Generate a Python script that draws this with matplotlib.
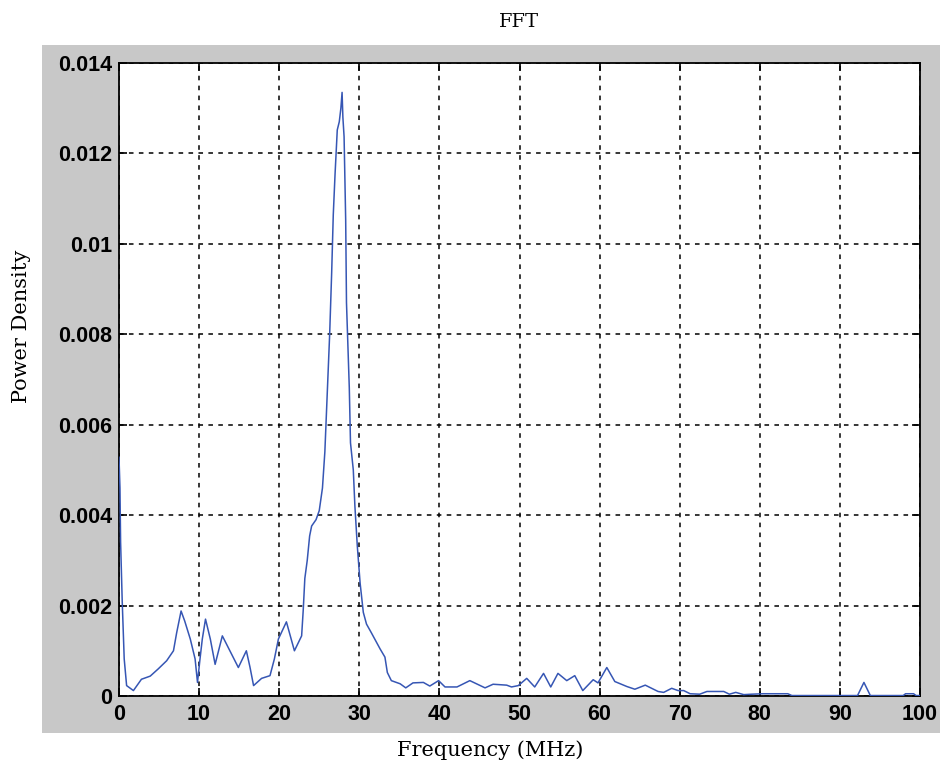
import matplotlib
matplotlib.use("Agg")
import matplotlib.pyplot as plt
from matplotlib.patches import Rectangle

# Spectrum samples: frequency (MHz) and power density
freq_mhz = [
    0.0, 0.12, 0.2, 0.4, 0.65, 0.95, 1.8, 2.8, 3.9, 4.9, 5.95, 6.8, 7.2, 7.75,
    8.2, 8.9, 9.5, 9.8, 10.1, 10.4, 10.8, 11.4, 12.0, 12.9, 14.9, 15.9, 16.35,
    16.8, 17.8, 18.85, 19.4, 19.9, 20.9, 21.9, 22.8, 23.0, 23.2, 23.5, 23.8,
    24.05, 24.6, 25.0, 25.4, 25.7, 26.0, 26.3, 26.55, 26.75, 26.97, 27.25,
    27.5, 27.7, 27.85, 27.95, 28.1, 28.3, 28.4, 28.75, 28.9, 29.25, 29.45,
    29.75, 30.1, 30.5, 30.9, 31.5, 32.6, 33.2, 33.5, 34.0, 35.1, 35.8, 36.7,
    38.0, 38.8, 39.9, 40.7, 42.2, 43.8, 45.7, 46.7, 48.4, 49.0, 49.85, 50.9,
    51.9, 53.0, 53.9, 54.8, 55.9, 56.9, 57.9, 59.2, 59.8, 60.9, 61.9, 63.4,
    64.4, 65.7, 67.3, 68.0, 69.0, 69.8, 70.5, 71.3, 72.5, 73.4, 74.6, 75.5,
    76.2, 77.0, 78.0, 79.0, 80.4, 83.5, 84.0, 92.2, 93.0, 93.8, 97.9, 98.2,
    99.2, 99.5, 100.0,
]
power_density = [
    0.00528, 0.0046, 0.0034, 0.0021, 0.00082, 0.00023, 0.00012, 0.00037,
    0.00044, 0.0006, 0.00078, 0.001, 0.0014, 0.00188, 0.00166, 0.00126,
    0.00082, 0.0003, 0.0008, 0.00126, 0.0017, 0.00126, 0.0007, 0.00133,
    0.00063, 0.001, 0.00064, 0.00023, 0.00039, 0.00045, 0.00082, 0.00126,
    0.00164, 0.001, 0.00133, 0.0019, 0.0026, 0.003, 0.00354, 0.00376, 0.0039,
    0.0041, 0.0046, 0.0054, 0.0067, 0.008, 0.00936, 0.01064, 0.01153,
    0.01252, 0.0127, 0.0130, 0.01335, 0.0128, 0.01237, 0.01053, 0.0087,
    0.00682, 0.0056, 0.005, 0.0042, 0.00332, 0.0025, 0.00185, 0.00159,
    0.0014, 0.00104, 0.00086, 0.00052, 0.00034, 0.00027, 0.00018, 0.00029,
    0.0003, 0.00022, 0.00034, 0.0002, 0.0002, 0.00034, 0.00018, 0.00026,
    0.00024, 0.0002, 0.00023, 0.00039, 0.0002, 0.0005, 0.0002, 0.0005,
    0.00034, 0.00045, 0.00012, 0.00036, 0.00029, 0.00063, 0.00032, 0.00021,
    0.00015, 0.00024, 0.0001, 0.00008, 0.00017, 0.00012, 0.00012, 0.00005,
    0.00004, 0.0001, 0.0001, 0.0001, 0.00004, 0.00008, 0.00003, 0.00004,
    0.00005, 0.00005, 0.00001, 0.00001, 0.0003, 0.00001, 0.00001, 0.00005,
    0.00005, 0.00001, 0.00001,
]

x_ticks = [0, 10, 20, 30, 40, 50, 60, 70, 80, 90, 100]
y_ticks = [0, 0.002, 0.004, 0.006, 0.008, 0.01, 0.012, 0.014]
y_tick_labels = ["0", "0.002", "0.004", "0.006", "0.008", "0.01", "0.012", "0.014"]

W, H = 940, 766
fig = plt.figure(figsize=(W / 100, H / 100), dpi=100, facecolor="white")

# grey panel behind the axes
panel = Rectangle((42 / W, 1 - 733 / H), 1 - 42 / W, (733 - 45) / H,
                  transform=fig.transFigure, facecolor="#c8c8c8",
                  edgecolor="none", zorder=-10)
fig.patches.append(panel)

ax = fig.add_axes([119 / W, 1 - 696 / H, (920 - 119) / W, (696 - 63) / H])
ax.set_zorder(1)
ax.set_facecolor("white")
ax.plot(freq_mhz, power_density, color="#3656b4", linewidth=1.1, zorder=3)

ax.set_xlim(0, 100)
ax.set_ylim(0, 0.014)
ax.set_xticks(x_ticks)
ax.set_xticklabels([str(t) for t in x_ticks])
ax.set_yticks(y_ticks)
ax.set_yticklabels(y_tick_labels)

ax.grid(True, color="black", linestyle=(0, (3, 3.5)), linewidth=1.1)
ax.set_axisbelow(True)
ax.tick_params(direction="in", length=6, width=1.2, top=True, right=True,
               labelsize=15.5)
ax.tick_params(axis="x", pad=6)
ax.tick_params(axis="y", pad=5)
for lbl in ax.get_xticklabels() + ax.get_yticklabels():
    lbl.set_fontweight("bold")
    lbl.set_family("Liberation Sans")
for sp in ax.spines.values():
    sp.set_linewidth(1.3)
    sp.set_color("black")

serif = "DejaVu Serif"
fig.text(519.5 / W, 1 - 22 / H, "FFT", ha="center", va="center",
         family=serif, fontsize=14)
fig.text(490 / W, 1 - 750 / H, "Frequency (MHz)", ha="center", va="center",
         family=serif, fontsize=15)
fig.text(22 / W, 1 - 326 / H, "Power Density", ha="center", va="center",
         rotation=90, family=serif, fontsize=15)

fig.savefig("out.png", dpi=100, facecolor="white")
